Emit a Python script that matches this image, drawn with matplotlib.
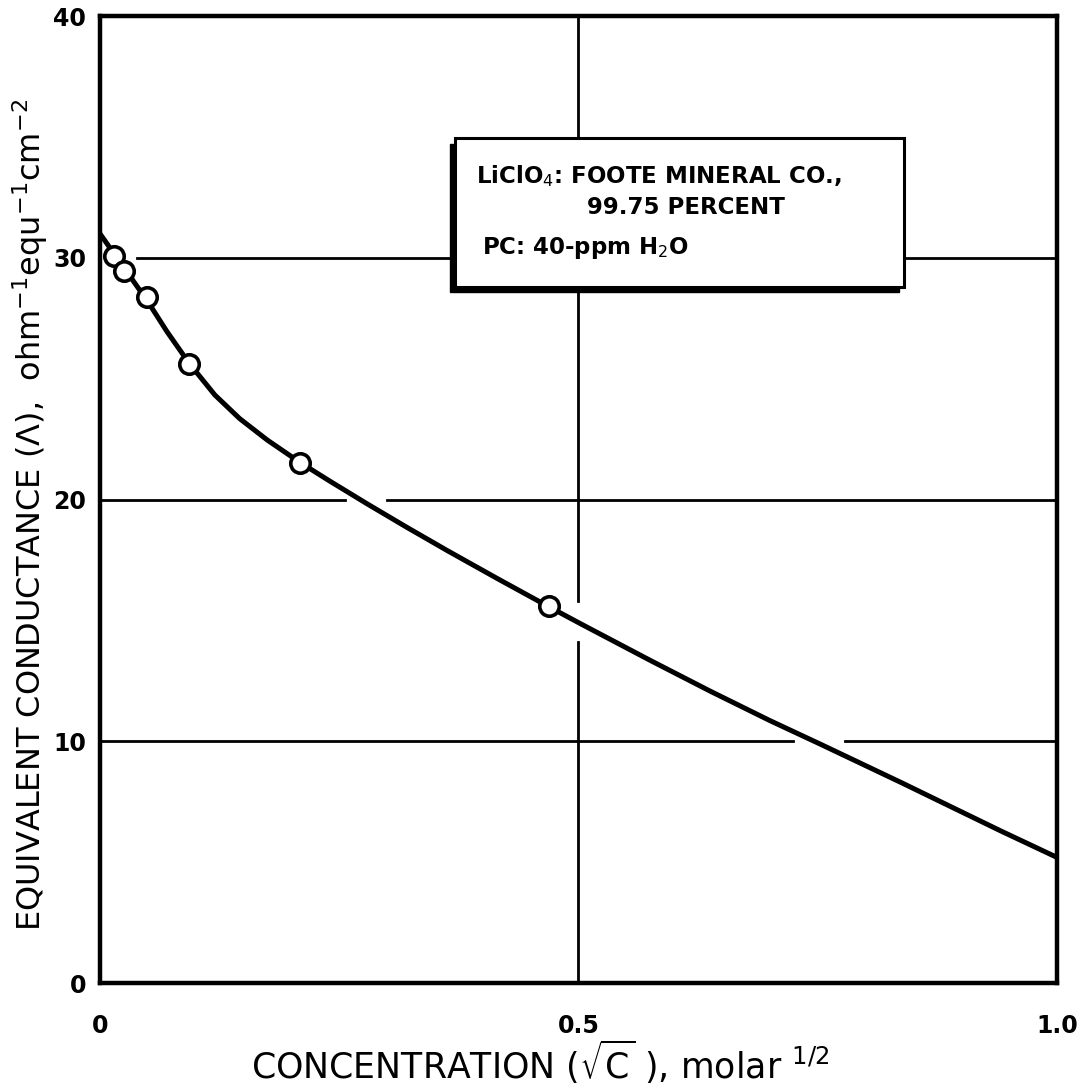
import numpy as np
import matplotlib
matplotlib.use('Agg')
import matplotlib.pyplot as plt
from matplotlib.patches import Rectangle

plt.rcParams['font.family'] = ['DejaVu Sans']
plt.rcParams['mathtext.fontset'] = 'dejavusans'

# measured points, LiClO4 in PC
conc = [0.015, 0.025, 0.049, 0.093, 0.209, 0.469]
cond = [30.1, 29.45, 28.4, 25.6, 21.5, 15.6]

# hand-drawn smooth curve through the data
curve_x = [0.0, 0.008, 0.015, 0.025, 0.037, 0.049, 0.070, 0.093, 0.120, 0.146,
           0.175, 0.209, 0.240, 0.279, 0.320, 0.363, 0.415, 0.469, 0.502, 0.575,
           0.638, 0.700, 0.753, 0.837, 0.941, 1.0]
curve_y = [31.0, 30.55, 30.15, 29.6, 28.92, 28.25, 26.95, 25.65, 24.33, 23.35,
           22.46, 21.54, 20.77, 19.83, 18.87, 17.89, 16.74, 15.57, 14.87, 13.35,
           12.07, 10.86, 9.88, 8.3, 6.3, 5.2]

xticks = [0, 0.5, 1.0]
xticklabels = ['0', '0.5', '1.0']
yticks = [0, 10, 20, 30, 40]

fig = plt.figure(figsize=(10.91, 10.85), dpi=100)
ax = fig.add_axes([0.0917, 0.094, 0.877, 0.891])
ax.set_xlim(0, 1.0)
ax.set_ylim(0, 40)

# grid lines, broken where the curve crosses them
gk = dict(color='black', lw=2.0, zorder=1)
ax.plot([0.039, 1.0], [30, 30], **gk)
ax.plot([0, 0.256], [20, 20], **gk)
ax.plot([0.300, 1.0], [20, 20], **gk)
ax.plot([0, 0.724], [10, 10], **gk)
ax.plot([0.779, 1.0], [10, 10], **gk)
ax.plot([0.5, 0.5], [0, 14.1], **gk)
ax.plot([0.5, 0.5], [15.8, 40], **gk)

ax.plot(curve_x, curve_y, color='black', lw=3.6, solid_capstyle='round',
        solid_joinstyle='round', zorder=3)
ax.plot(conc, cond, 'o', ms=14, mfc='white', mec='black', mew=2.6, zorder=4)

# note box with a drop shadow
bx, by, bw, bh = 0.371, 28.8, 0.469, 6.15
ax.add_patch(Rectangle((bx - 0.005, by - 0.22), bw, bh, facecolor='black',
                       edgecolor='black', lw=1, zorder=5))
ax.add_patch(Rectangle((bx, by), bw, bh, facecolor='white', edgecolor='black',
                       lw=2.2, zorder=6))
tk = dict(fontsize=16.5, fontweight='bold', va='center', ha='left', zorder=7)
ax.text(0.393, 33.4, 'LiClO$_4$: FOOTE MINERAL CO.,', **tk)
ax.text(0.509, 32.1, '99.75 PERCENT', **tk)
ax.text(0.399, 30.4, 'PC: 40-ppm H$_2$O', **tk)

for s in ax.spines.values():
    s.set_linewidth(3.2)
ax.set_xticks(xticks)
ax.set_xticklabels(xticklabels)
ax.set_yticks(yticks)
ax.tick_params(length=0, labelsize=17)
ax.tick_params(axis='x', pad=22)
ax.tick_params(axis='y', pad=10)
for lb in ax.get_xticklabels() + ax.get_yticklabels():
    lb.set_fontweight('bold')

fig.text(540 / 1091, 1 - 1062 / 1085,
         r'CONCENTRATION ($\sqrt{\mathrm{C}}$ ), molar $^{1/2}$',
         fontsize=25, ha='center', va='center')
fig.text(30 / 1091, 1 - 515 / 1085,
         r'EQUIVALENT CONDUCTANCE ($\Lambda$),  ohm$^{-1}$equ$^{-1}$cm$^{-2}$',
         fontsize=23, ha='center', va='center', rotation=90)

fig.savefig('out.png', dpi=100)
